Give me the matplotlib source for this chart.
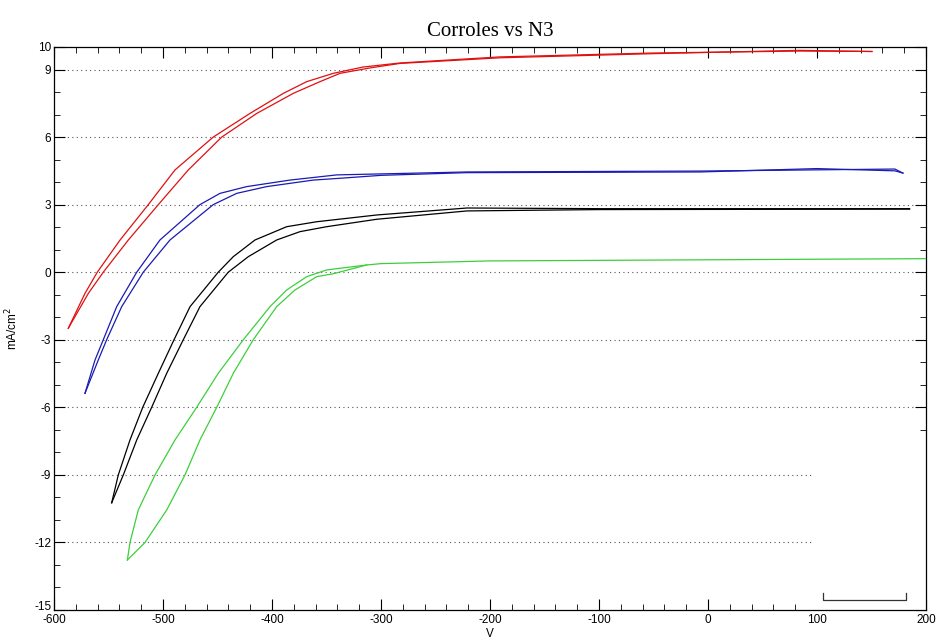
import matplotlib
matplotlib.use("Agg")
import matplotlib.pyplot as plt
from matplotlib.patches import Rectangle
from matplotlib.ticker import MultipleLocator, FixedLocator

plt.rcParams["axes.unicode_minus"] = False

# each loop: upper/left branch going right, then lower/right branch coming back
red_fwd_v = [-586.9, -571.6, -560.3, -539.4, -513.5, -489.0, -453.9, -420.2, -389.6, -368.2, -343.8,
             -316.5, -282.6, -190.8, -53.2, 84.4, 150.5]
red_fwd_j = [-2.49, -0.94, 0.0, 1.43, 3.0, 4.54, 6.0, 7.05, 7.94, 8.46, 8.83,
             9.11, 9.29, 9.56, 9.73, 9.82, 9.80]
red_rev_v = [150.5, 84.4, -53.2, -190.8, -282.6, -310.1, -337.6, -356.0, -380.5, -414.0, -446.1,
             -476.8, -504.3, -531.8, -554.8, -568.5, -586.9]
red_rev_j = [9.80, 9.85, 9.70, 9.52, 9.27, 9.07, 8.83, 8.46, 7.94, 7.05, 6.0,
             4.54, 3.0, 1.43, 0.0, -0.94, -2.49]

blue_fwd_v = [-571.6, -562.4, -554.8, -542.5, -524.1, -502.8, -466.1, -447.7, -423.2, -383.5, -340.6,
              -221.1, -7.3, 171.6, 178.9]
blue_fwd_j = [-5.38, -3.9, -3.0, -1.53, 0.0, 1.43, 3.0, 3.5, 3.8, 4.09, 4.32,
              4.45, 4.49, 4.58, 4.40]
blue_rev_v = [178.9, 171.6, 100.0, -7.3, -221.1, -300.0, -337.6, -362.1, -404.9, -432.4, -453.9,
              -493.6, -518.1, -537.9, -551.7, -559.4, -571.6]
blue_rev_j = [4.40, 4.50, 4.60, 4.45, 4.42, 4.30, 4.17, 4.09, 3.8, 3.5, 3.0,
              1.43, 0.0, -1.53, -3.0, -3.9, -5.38]

black_fwd_v = [-547.1, -541.0, -530.3, -518.6, -504.3, -489.9, -475.2, -449.3, -435.5, -415.6, -386.5,
               -359.0, -303.9, -221.1, -99.0, 185.0]
black_fwd_j = [-10.24, -9.0, -7.45, -6.0, -4.49, -3.0, -1.53, 0.0, 0.69, 1.43, 2.02,
               2.24, 2.54, 2.85, 2.82, 2.82]
black_rev_v = [185.0, -99.0, -221.1, -303.9, -349.8, -374.3, -395.7, -421.7, -440.1, -466.1, -481.4,
               -496.6, -510.4, -524.1, -536.4, -547.1]
black_rev_j = [2.80, 2.78, 2.72, 2.35, 2.02, 1.80, 1.43, 0.69, 0.0, -1.53, -3.0,
               -4.49, -6.0, -7.45, -9.0, -10.24]

green_fwd_v = [-532.7, -530.3, -522.7, -507.3, -489.0, -469.1, -449.3, -426.3, -401.8, -386.5, -368.2,
               -349.8, -313.1, -300.0, -200.0, 0.0, 200.0]
green_fwd_j = [-12.78, -12.0, -10.56, -9.0, -7.45, -6.0, -4.49, -3.0, -1.53, -0.79, -0.2,
               0.1, 0.32, 0.38, 0.50, 0.55, 0.60]
green_rev_v = [-313.1, -343.8, -359.0, -378.9, -395.7, -417.2, -435.5, -450.7, -466.1, -479.8, -496.6,
               -516.5, -532.7]
green_rev_j = [0.32, -0.07, -0.2, -0.79, -1.53, -3.0, -4.49, -6.0, -7.45, -9.0, -10.56,
               -12.0, -12.78]

loops = [
    (red_fwd_v, red_fwd_j, red_rev_v, red_rev_j, "#e01010"),
    (blue_fwd_v, blue_fwd_j, blue_rev_v, blue_rev_j, "#1a1ab4"),
    (black_fwd_v, black_fwd_j, black_rev_v, black_rev_j, "#000000"),
    (green_fwd_v, green_fwd_j, green_rev_v, green_rev_j, "#3ccf3c"),
]

grid_levels = [9, 6, 3, 0, -3, -6, -9, -12]
ytick_vals = [10, 9, 6, 3, 0, -3, -6, -9, -12, -15]

fig = plt.figure(figsize=(9.38, 6.41), dpi=100)
ax = fig.add_axes([0.0576, 0.0484, 0.9295, 0.8783])

for fv, fj, rv, rj, col in loops:
    ax.plot(fv, fj, color=col, lw=0.9, zorder=3)
    ax.plot(rv, rj, color=col, lw=0.9, zorder=3)

for g in grid_levels:
    ax.axhline(g, color="#555555", lw=0.8, ls=(0, (1, 3)), zorder=1)

# legend box left over from the original, mostly blank
ax.add_patch(Rectangle((96, -8.0), 104, -7.0, facecolor="white", edgecolor="none", zorder=2))
ax.plot([106, 106, 182, 182], [-14.25, -14.55, -14.55, -14.25], color="#333333", lw=0.9, zorder=4)

ax.set_xlim(-600, 200)
ax.set_ylim(-15, 10)
ax.xaxis.set_major_locator(MultipleLocator(100))
ax.xaxis.set_minor_locator(MultipleLocator(20))
ax.yaxis.set_major_locator(FixedLocator(ytick_vals))
ax.yaxis.set_minor_locator(MultipleLocator(1))
ax.tick_params(which="both", direction="in", top=True, right=True, labelsize=8.5)
ax.tick_params(axis="x", pad=3)
ax.tick_params(axis="y", pad=2)
ax.tick_params(which="major", length=8, width=0.8)
ax.tick_params(which="minor", length=4, width=0.6)
for lab in ax.get_xticklabels() + ax.get_yticklabels():
    lab.set_fontfamily("Liberation Sans")
# lowest y label sits right on the corner, lift it a touch
ax.get_yticklabels()[-1].set_verticalalignment("baseline")

ax.set_title("Corroles vs N3", fontfamily="Liberation Serif", fontsize=15, pad=8)
ax.set_xlabel("V", fontfamily="Liberation Sans", fontsize=8.5, labelpad=1)
ax.set_ylabel("mA/cm$^2$", fontfamily="Liberation Sans", fontsize=8.5, labelpad=10)

for s in ax.spines.values():
    s.set_linewidth(0.9)

fig.savefig("out.png", dpi=100)
